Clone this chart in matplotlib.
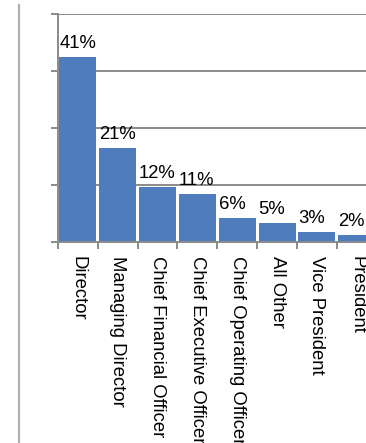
import matplotlib.pyplot as plt
from matplotlib.lines import Line2D

# Datos
titles = ['Director', 'Managing Director', 'Chief Financial Officer',
          'Chief Executive Officer', 'Chief Operating Officer', 'All Other',
          'Vice President', 'President']
shares = [40.6, 20.6, 12.0, 10.5, 5.3, 4.2, 2.2, 1.5]
labels = ['41%', '21%', '12%', '11%', '6%', '5%', '3%', '2%']
yticks = [0, 12.5, 25, 37.5, 50]

plt.rcParams['font.family'] = ['Liberation Sans', 'DejaVu Sans']

fig = plt.figure(figsize=(3.66, 4.43), dpi=100)
ax = fig.add_axes([58 / 366, 201 / 443, 318.6 / 366, 228 / 443])

grey = '#8a8a8a'
x = range(len(titles))
ax.bar(x, shares, width=0.93, color='#4f7cbd', zorder=2)

# Etiquetas encima de cada barra, alineadas a la izquierda
for i, (v, lab) in enumerate(zip(shares, labels)):
    ax.annotate(lab, (i - 0.465, v), xytext=(0, 6.5), textcoords='offset points',
                ha='left', va='baseline', fontsize=13.3, color='black')

ax.set_xlim(-0.5, len(titles) - 0.5)
ax.set_ylim(0, 50)

ax.set_yticks(yticks)
ax.set_yticklabels([])
ax.tick_params(axis='y', length=5, width=1.4, color=grey, direction='out')
ax.grid(True, axis='y', color=grey, linewidth=1.4, zorder=0)
ax.set_axisbelow(True)

ax.set_xticks(list(x))
ax.set_xticklabels(titles, rotation=270, fontsize=13.3, va='top', ha='center')
ax.set_xticks([i - 0.5 for i in range(len(titles) + 1)], minor=True)
ax.tick_params(axis='x', which='major', length=0, pad=10)
ax.tick_params(axis='x', which='minor', length=5, width=1.4, color=grey)

for s in ['top', 'right']:
    ax.spines[s].set_visible(False)
for s in ['left', 'bottom']:
    ax.spines[s].set_color(grey)
    ax.spines[s].set_linewidth(1.4)

# Línea vertical gris a la izquierda
fig.add_artist(Line2D([19 / 366, 19 / 366], [0, 438 / 443], transform=fig.transFigure,
                      color='#b0b0b0', linewidth=1.6))

fig.savefig('out.png', dpi=100)
